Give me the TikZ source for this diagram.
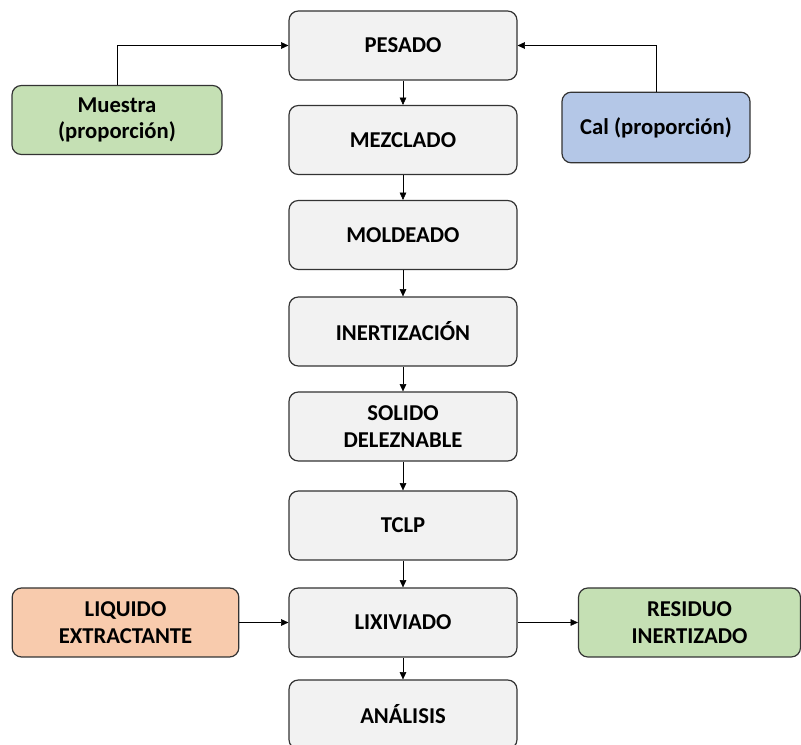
\documentclass[tikz,border=0pt]{standalone}
\usepackage{fontspec}
\usetikzlibrary{arrows.meta}
\setmainfont{Carlito}
\definecolor{procgray}{HTML}{F2F2F2}
\definecolor{inputgreen}{HTML}{C5E0B4}
\definecolor{inputblue}{HTML}{B4C7E7}
\definecolor{inputorange}{HTML}{F8CBAD}
\begin{document}
\begin{tikzpicture}
    [x=0.75pt,y=-0.75pt,
     pre/.style={<-,>={Triangle[length=5.5pt,width=5pt]},thin},
     box/.style={shape=rectangle,rounded corners=7pt,draw=black!80,line width=0.9pt,
       align=center,font=\fontsize{17}{20}\selectfont\bfseries,inner sep=2pt,
       minimum height=51.75pt},
     proc/.style={box,fill=procgray,minimum width=171pt}]
    \clip (0,0) rectangle (801,745);
    \node [proc] (pesado) at (403, 45.5) {PESADO};
    \node [proc] (mezclado) at (403, 140) {MEZCLADO}
      edge [pre] (pesado);
    \node [proc] (moldeado) at (403, 235) {MOLDEADO}
      edge [pre] (mezclado);
    \node [proc] (inert) at (403, 331.5) {INERTIZACIÓN}
      edge [pre] (moldeado);
    \node [proc] (solido) at (403, 426.5) {SOLIDO\\DELEZNABLE}
      edge [pre] (inert);
    \node [proc] (tclp) at (403, 525.5) {TCLP}
      edge [pre] (solido);
    \node [proc] (lixiviado) at (403, 622.5) {LIXIVIADO}
      edge [pre] (tclp);
    \node [proc] (analisis) at (403, 714.5) {ANÁLISIS}
      edge [pre] (lixiviado);
    % entradas y salida
    \node [box,fill=inputgreen,minimum width=157.5pt] (muestra) at (117, 120) {Muestra\\(proporción)};
    \node [box,fill=inputblue,minimum width=141pt,minimum height=53pt] (cal) at (656, 127.5) {Cal (proporción)};
    \node [box,fill=inputorange,minimum width=170pt] (liquido) at (125.5, 622.5) {LIQUIDO\\EXTRACTANTE};
    \node [box,fill=inputgreen,minimum width=166.5pt] (residuo) at (689.5, 622.5) {RESIDUO\\INERTIZADO}
      edge [pre] (lixiviado);
    \draw [pre] (pesado.west) -| (muestra);
    \draw [pre] (pesado.east) -| (cal);
    \draw [pre] (lixiviado) -- (liquido);
  \end{tikzpicture}
\end{document}
